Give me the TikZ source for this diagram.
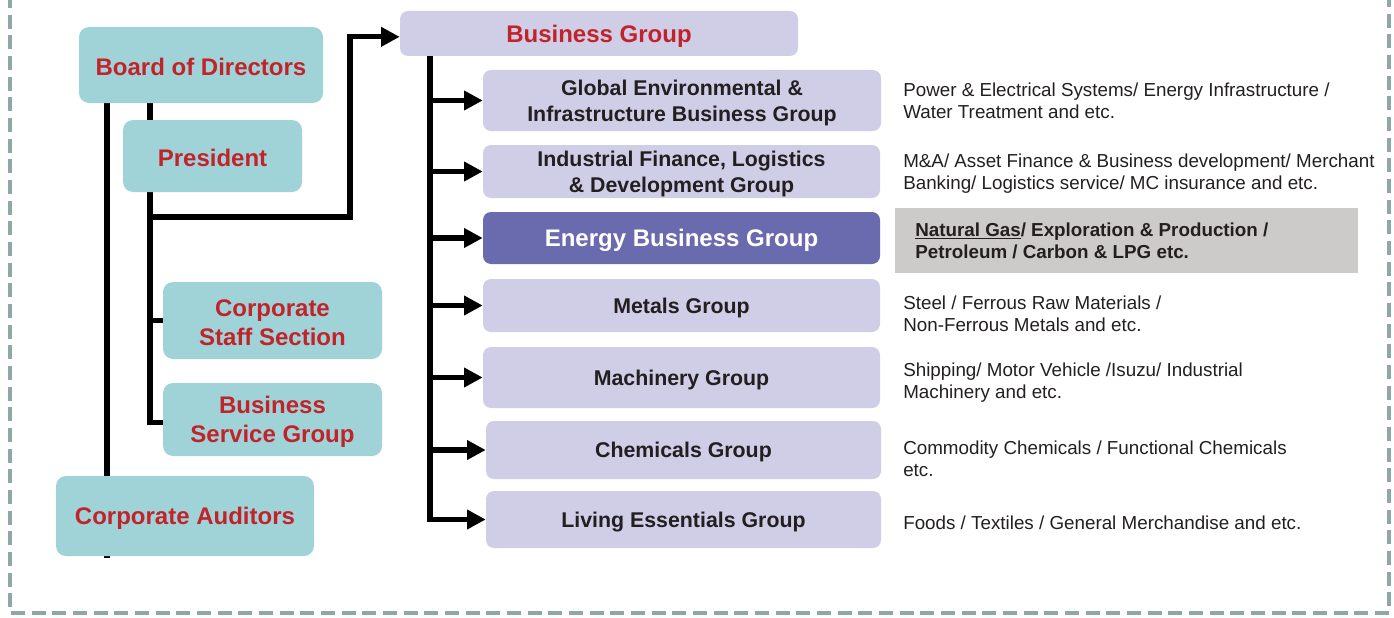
\documentclass[tikz,border=0pt]{standalone}
\usepackage{fontspec}
\setmainfont{Liberation Sans}
\usetikzlibrary{arrows.meta,fit,calc,backgrounds}
\definecolor{cteal}{HTML}{A0D3D7}
\definecolor{cred}{HTML}{C1232B}
\definecolor{clav}{HTML}{D0CEE7}
\definecolor{cnrg}{HTML}{6A6BAF}
\definecolor{cgray}{HTML}{CCCBCA}
\definecolor{cdash}{HTML}{8FA7A7}
\definecolor{ctext}{HTML}{231F20}
\begin{document}
\begin{tikzpicture}[x=0.75pt,y=-0.75pt,
  tbox/.style={fill=cteal, rounded corners=7.5pt, inner sep=0pt},
  lbox/.style={fill=clav, rounded corners=6pt, inner sep=0pt},
  ebox/.style={fill=cnrg, rounded corners=6pt, inner sep=0pt},
  redtxt/.style={text=cred, align=center, inner sep=0pt, yshift=-1.8pt, font=\fontsize{18}{22}\selectfont\bfseries},
  blktxt/.style={text=ctext, align=center, inner sep=0pt, yshift=-1.8pt, font=\fontsize{16}{19.5}\selectfont\bfseries},
  whttxt/.style={text=white, align=center, inner sep=0pt, yshift=-1.8pt, font=\fontsize{18}{22}\selectfont\bfseries},
  conn/.style={line width=4pt, black, line join=miter},
  arr/.style={conn, -{Triangle[length=14pt,width=14pt]}},
  desc/.style={anchor=west, inner sep=0pt, align=left, text=ctext,
    font=\fontsize{14.1}{16.5}\selectfont}]
\useasboundingbox (0,0) rectangle (1394,617);
% frame
\draw[cdash, line width=3pt, dash pattern=on 10.5pt off 5pt] (10,-6) -- (10,613) -- (1389,613) -- (1389,-6);
% left side boxes
\node[tbox, fit={(79,27) (323,103)}] (bod) {};
\node[redtxt] (bodt) at (bod) {Board of Directors};
\node[tbox, fit={(123,120) (302,192)}] (pres) {};
\node[redtxt] (prest) at (pres) {President};
\node[tbox, fit={(163,282) (382,359)}] (css) {};
\node[redtxt] (csst) at (css) {Corporate\\Staff Section};
\node[tbox, fit={(163,383) (382,456)}] (bsg) {};
\node[redtxt] (bsgt) at (bsg) {Business\\Service Group};
\node[tbox, fit={(56,476) (314,556)}] (aud) {};
\node[redtxt] (audt) at (aud) {Corporate Auditors};
% business groups
\node[lbox, fit={(400,11) (798,56)}] (bg) {};
\node[redtxt] (bgt) at (bg) {Business Group};
\node[lbox, fit={(483,70) (881,131)}] (ge) {};
\node[blktxt] (get) at (ge) {Global Environmental \&\\Infrastructure Business Group};
\node[lbox, fit={(483,145) (880,198)}] (ifl) {};
\node[blktxt] (iflt) at (ifl) {Industrial Finance, Logistics\\\& Development Group};
\node[ebox, fit={(483,212) (880,264)}] (nrg) {};
\node[whttxt] (nrgt) at (nrg) {Energy Business Group};
\node[lbox, fit={(483,279) (880,332)}] (met) {};
\node[blktxt] (mett) at (met) {Metals Group};
\node[lbox, fit={(483,347) (880,408)}] (mac) {};
\node[blktxt] (mact) at (mac) {Machinery Group};
\node[lbox, fit={(486,421) (881,479)}] (chem) {};
\node[blktxt] (chemt) at (chem) {Chemicals Group};
\node[lbox, fit={(486,491) (881,548)}] (liv) {};
\node[blktxt] (livt) at (liv) {Living Essentials Group};
% descriptions
\node[desc] (d1) at (903,101) {Power \& Electrical Systems/ Energy Infrastructure /\\Water Treatment and etc.};
\node[desc] (d2) at (903,173.5) {M\&A/ Asset Finance \& Business development/ Merchant\\Banking/ Logistics service/ MC insurance and etc.};
\node[fill=cgray, inner sep=0pt, fit={(895,208) (1358,273)}] (gbox) {};
\node[desc, font=\fontsize{14.1}{16.5}\selectfont\bfseries] (d3) at (915,240.5) {\underline{Natural Gas}/ Exploration \& Production /\\Petroleum / Carbon \& LPG etc.};
\node[desc] (d4) at (903,314) {Steel / Ferrous Raw Materials /\\Non-Ferrous Metals and etc.};
\node[desc] (d5) at (903,383) {Shipping/ Motor Vehicle /Isuzu/ Industrial\\Machinery and etc.};
\node[desc] (d6) at (903,459) {Commodity Chemicals / Functional Chemicals\\etc.};
\node[desc] (d7) at (903,523) {Foods / Textiles / General Merchandise and etc.};
% coordinates
\coordinate (xa) at (107,0);
\coordinate (xb) at (150,0);
\coordinate (xt) at (350,217);
\coordinate (xc) at (430,0);
\coordinate (l1bot) at (107,558);
% connectors
\begin{scope}[on background layer]
\draw[conn] (bod.south -| xa) -- (l1bot);
\draw[conn] (bod.south -| xb) -- (pres.north -| xb);
\draw[arr] (pres.south -| xb) |- (xt) |- ([yshift=-2.5pt]bg.west);
\draw[conn] (pres.south -| xb) |- ([yshift=-2pt]bsg.west);
\draw[conn] (css.west -| xb) -- (css.west);
\draw[conn] (bg.south -| xc) -- ([yshift=-2pt]liv.west -| xc);
\end{scope}
\foreach \n in {ge,ifl,nrg,met,mac,chem,liv} \draw[arr] (\n.west -| xc) -- (\n.west);
\end{tikzpicture}
\end{document}
